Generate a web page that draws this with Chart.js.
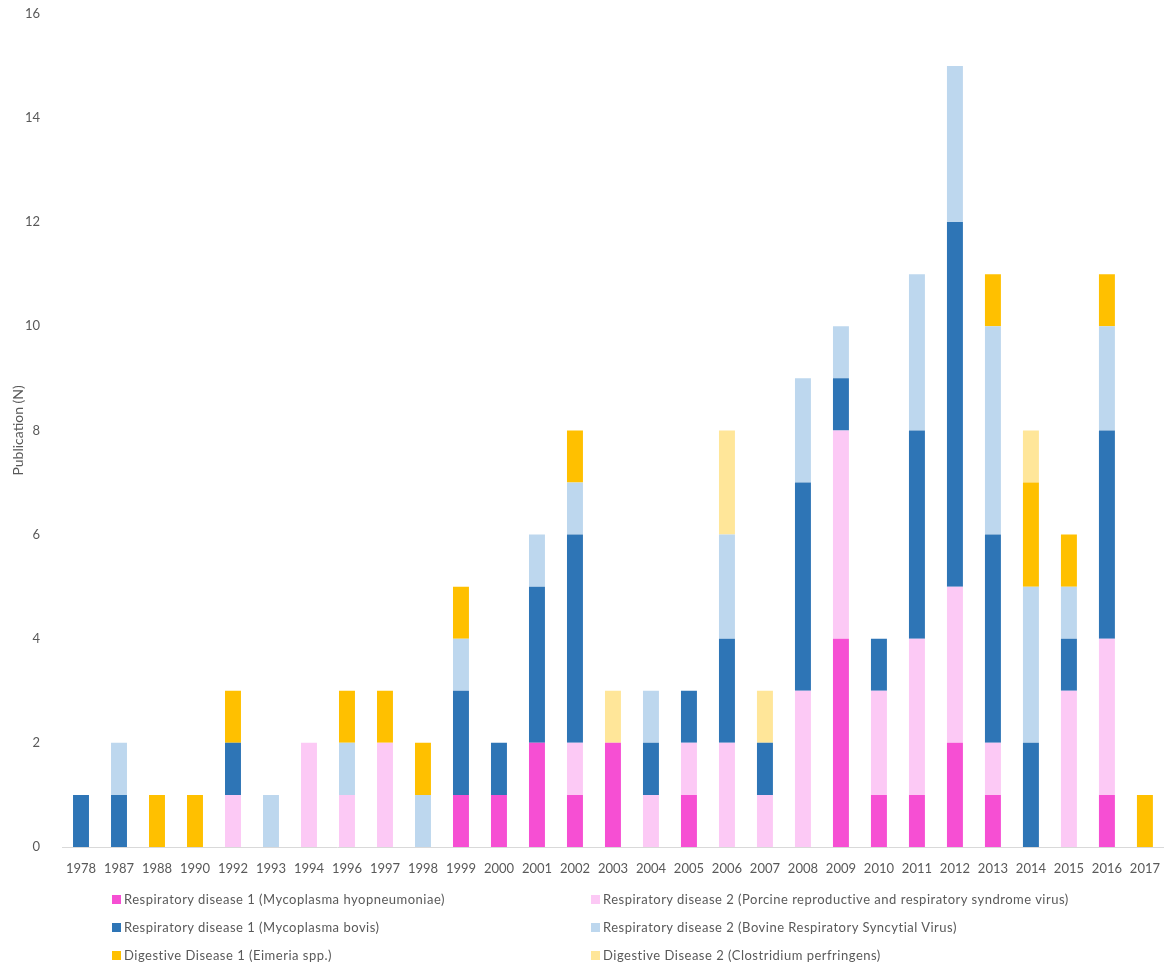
<!DOCTYPE html>
<html>
<head>
<meta charset="utf-8">
<script src="https://cdn.jsdelivr.net/npm/chart.js@4"></script>
<style>
  html, body { margin: 0; padding: 0; background: #fff; overflow: hidden; }
  #wrap { position: relative; width: 1166px; height: 967px; overflow: hidden; }
  #chart { position: absolute; left: 0; top: -8px; }
  #legend {
    position: absolute; left: 112px; top: 890px;
    display: grid; grid-template-columns: 479px 480px; row-gap: 10px;
    font-family: Lato, "Open Sans", sans-serif; font-size: 13px; color: #595959;
    letter-spacing: 0.5px;
  }
  #legend div { display: flex; align-items: center; height: 18px; white-space: nowrap; }
  #legend span.box { flex: none; width: 9px; height: 9px; margin-right: 3px; display: inline-block; }
</style>
</head>
<body>
<div id="wrap">
  <canvas id="chart" width="1166" height="975"></canvas>
  <div id="legend"></div>
</div>
<script>
const years = ['1978','1987','1988','1990','1992','1993','1994','1996','1997','1998','1999','2000','2001','2002','2003','2004','2005','2006','2007','2008','2009','2010','2011','2012','2013','2014','2015','2016','2017'];

// stacked from bottom to top
const mycoHyo   = [0,0,0,0,0,0,0,0,0,0,1,1,2,1,2,0,1,0,0,0,4,1,1,2,1,0,0,1,0];
const prrsv     = [0,0,0,0,1,0,2,1,2,0,0,0,0,1,0,1,1,2,1,3,4,2,3,3,1,0,3,3,0];
const mycoBovis = [1,1,0,0,1,0,0,0,0,0,2,1,3,4,0,1,1,2,1,4,1,1,4,7,4,2,1,4,0];
const brsv      = [0,1,0,0,0,1,0,1,0,1,1,0,1,1,0,1,0,2,0,2,1,0,3,3,4,3,1,2,0];
const eimeria   = [0,0,1,1,1,0,0,1,1,1,1,0,0,1,0,0,0,0,0,0,0,0,0,0,1,2,1,1,1];
const clost     = [0,0,0,0,0,0,0,0,0,0,0,0,0,0,1,0,0,2,1,0,0,0,0,0,0,1,0,0,0];

const yTicks = [0, 2, 4, 6, 8, 10, 12, 14, 16];

const series = [
  { label: 'Respiratory disease 1 (Mycoplasma hyopneumoniae)', data: mycoHyo, color: '#F64FD3' },
  { label: 'Respiratory disease 2 (Porcine reproductive and respiratory syndrome virus)', data: prrsv, color: '#FCC9F5' },
  { label: 'Respiratory disease 1 (Mycoplasma bovis)', data: mycoBovis, color: '#2E75B6' },
  { label: 'Respiratory disease 2 (Bovine Respiratory Syncytial Virus)', data: brsv, color: '#BDD7EE' },
  { label: 'Digestive Disease 1 (Eimeria spp.)', data: eimeria, color: '#FFC000' },
  { label: 'Digestive Disease 2 (Clostridium perfringens)', data: clost, color: '#FFE699' }
];

const font = { family: 'Lato, "Open Sans", sans-serif', size: 13 };

new Chart(document.getElementById('chart'), {
  type: 'bar',
  data: {
    labels: years,
    datasets: series.map(s => ({
      label: s.label,
      data: s.data,
      backgroundColor: s.color,
      borderWidth: 0,
      barPercentage: 0.42,
      categoryPercentage: 1
    }))
  },
  options: {
    responsive: false,
    animation: false,
    layout: { padding: { top: 5, left: 0, right: 0, bottom: 0 } },
    plugins: { legend: { display: false }, tooltip: { enabled: false } },
    scales: {
      x: {
        stacked: true,
        grid: { display: false },
        border: { display: true, color: '#D9D9D9', width: 1 },
        ticks: { color: '#595959', font, padding: 6, maxRotation: 0, autoSkip: false },
        afterFit: s => { s.height = 120; }
      },
      y: {
        stacked: true,
        min: 0, max: 16,
        afterBuildTicks: s => { s.ticks = yTicks.map(v => ({ value: v })); },
        grid: { display: false },
        border: { display: false },
        ticks: { color: '#595959', font, padding: 14 },
        title: { display: true, text: 'Publication (N)', color: '#595959', font: { ...font, size: 14 }, padding: { top: 10, bottom: 0 } },
        afterFit: s => { s.width = 62; }
      }
    }
  }
});

// two-column legend like the original
const legend = document.getElementById('legend');
series.forEach(s => {
  const d = document.createElement('div');
  d.innerHTML = '<span class="box" style="background:' + s.color + '"></span>' + s.label;
  legend.appendChild(d);
});
</script>
</body>
</html>
